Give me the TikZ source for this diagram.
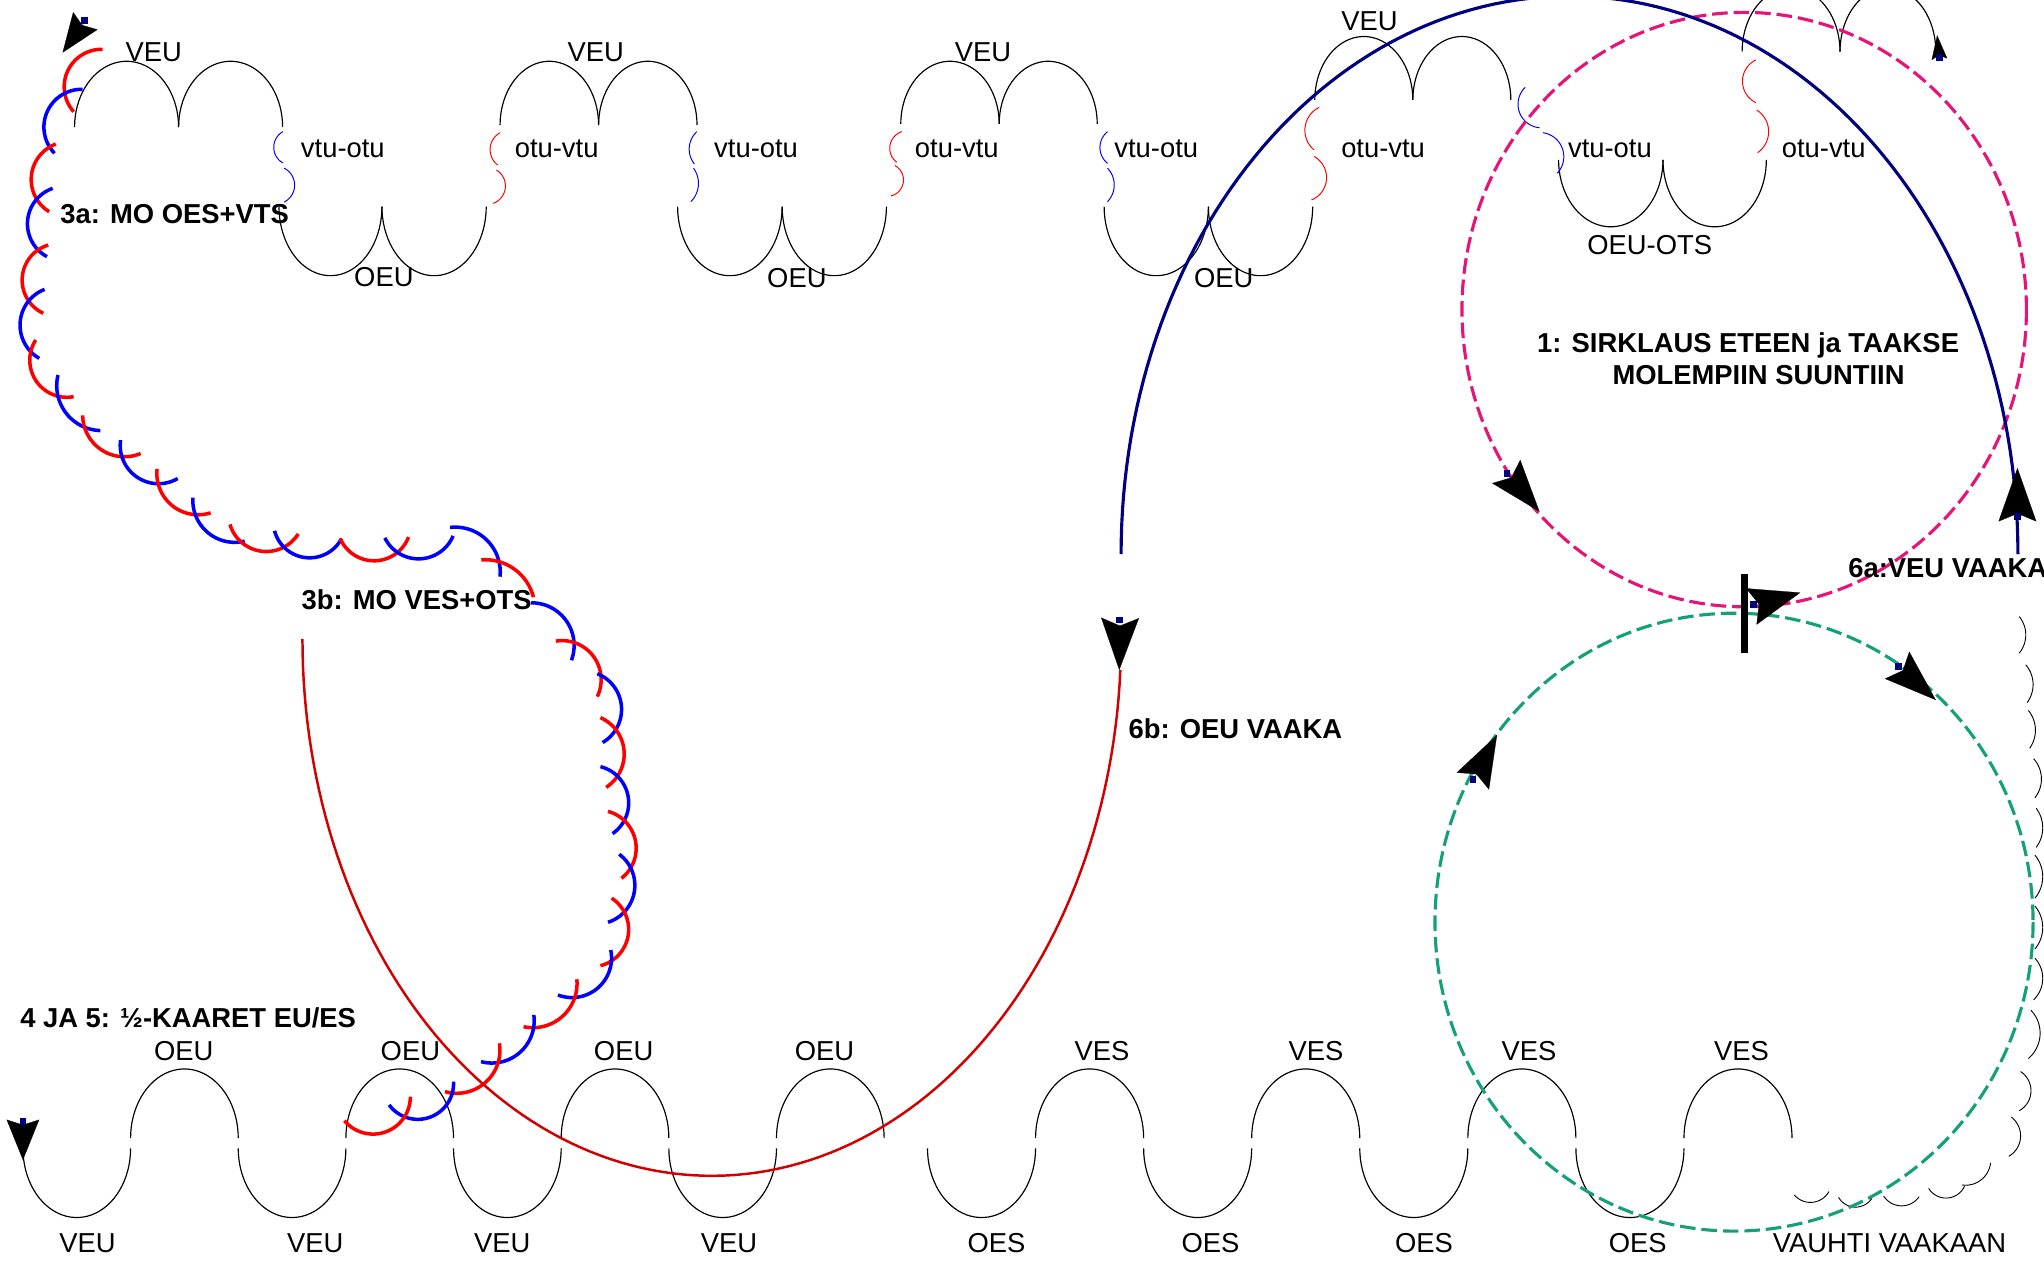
\documentclass[tikz,border=0pt]{standalone}
\usepackage{fontspec}
\setmainfont{Liberation Sans}
\usepackage{xfp}
\usetikzlibrary{arrows.meta}

\definecolor{navyline}{RGB}{0,0,128}
\definecolor{sweepred}{RGB}{210,0,0}
\definecolor{circmag}{RGB}{230,20,120}
\definecolor{circgrn}{RGB}{20,160,120}
\definecolor{chainred}{RGB}{255,0,0}
\definecolor{chainblue}{RGB}{0,0,255}

% half-ellipse arches: #1 left x, #2 right x, #3 base y, #4 height
\newcommand\archup[4]{\draw[arch] plot[domain=180:360,samples=40,variable=\t]
  ({((#1)+(#2))/2+((#2)-(#1))/2*cos(\t)},{(#3)+(#4)*sin(\t)});}
\newcommand\archdn[4]{\draw[arch] plot[domain=0:180,samples=40,variable=\t]
  ({((#1)+(#2))/2+((#2)-(#1))/2*cos(\t)},{(#3)+(#4)*sin(\t)});}

% circular arc through three points: #1 style, start (#2,#3), middle (#4,#5), end (#6,#7)
\newcommand\tarc[7]{%
 \edef\qAx{\fpeval{(#4)-(#2)}}%
 \edef\qAy{\fpeval{(#5)-(#3)}}%
 \edef\qBx{\fpeval{(#6)-(#2)}}%
 \edef\qBy{\fpeval{(#7)-(#3)}}%
 \edef\qD{\fpeval{2*((\qAx)*(\qBy)-(\qAy)*(\qBx))}}%
 \edef\qUx{\fpeval{((\qBy)*((\qAx)^2+(\qAy)^2)-(\qAy)*((\qBx)^2+(\qBy)^2))/(\qD)}}%
 \edef\qUy{\fpeval{((\qAx)*((\qBx)^2+(\qBy)^2)-(\qBx)*((\qAx)^2+(\qAy)^2))/(\qD)}}%
 \edef\qCx{\fpeval{round((#2)+(\qUx),3)}}%
 \edef\qCy{\fpeval{round((#3)+(\qUy),3)}}%
 \edef\qR{\fpeval{round(sqrt((\qUx)^2+(\qUy)^2),3)}}%
 \edef\qSa{\fpeval{atand(-(\qUy),-(\qUx))}}%
 \edef\qSb{\fpeval{atand((\qAy)-(\qUy),(\qAx)-(\qUx))}}%
 \edef\qSc{\fpeval{atand((\qBy)-(\qUy),(\qBx)-(\qUx))}}%
 \edef\qDc{\fpeval{(\qSc)-(\qSa)-360*floor(((\qSc)-(\qSa))/360)}}%
 \edef\qDb{\fpeval{(\qSb)-(\qSa)-360*floor(((\qSb)-(\qSa))/360)}}%
 \edef\qEnd{\fpeval{round((\qDb)<(\qDc) ? (\qSa)+(\qDc) : (\qSa)+(\qDc)-360,3)}}%
 \edef\qSa{\fpeval{round(\qSa,3)}}%
 \draw[#1] plot[domain=\qSa:\qEnd,samples=30,variable=\t]
   ({\qCx+\qR*cos(\t)},{\qCy+\qR*sin(\t)});%
}

% arrowhead from back point #1 to tip #2, length #3, width #4, inset #5
\newcommand\ahead[5]{\draw[black,line width=0.2pt,-{Stealth[length=#3pt,width=#4pt,inset=#5pt]}] #1 -- #2;}
% small square left where a tip starts
\newcommand\tipsq[1]{\fill[navyline] #1 ++(-2.6,-2.6) rectangle ++(5.2,5.2);}

\tikzset{
  lab/.style={font=\fontsize{21}{25}\selectfont, inner sep=0pt, text height=15pt, text depth=0pt},
  blab/.style={font=\fontsize{21}{25}\selectfont\bfseries, inner sep=0pt, text height=15pt, text depth=0pt},
  arch/.style={black, line width=0.9pt},
  brkred/.style={chainred, line width=0.75pt},
  brkblue/.style={chainblue, line width=0.75pt},
  chr/.style={chainred, line width=2.7pt},
  chb/.style={chainblue, line width=2.7pt},
  edgearc/.style={black, line width=0.7pt},
  dashcirc/.style={line width=2.4pt, dash pattern=on 12pt off 4.5pt},
}

\begin{document}
\begin{tikzpicture}[x=1pt,y=-1pt]
\useasboundingbox (0,0) rectangle (1568,969);

% ---------- upper row of arches ----------
\archup{57.2}{137}{97.5}{50.5}  \archup{137}{216.8}{97.5}{50.5}
\archup{383.6}{459.2}{96}{49}   \archup{459.2}{534.7}{96}{49}
\archup{691}{766.5}{95}{48}     \archup{766.5}{841.7}{95}{48}
\archup{1008.6}{1083.8}{76.7}{48.7} \archup{1083.8}{1159}{76.7}{48.7}
\archup{1336.4}{1411.5}{39.6}{49}   \archup{1411.5}{1485}{39.6}{49}

\archdn{214}{293}{158.5}{53}    \archdn{293}{373}{158.5}{53}
\archdn{519.8}{600}{158.5}{53}  \archdn{600}{680}{158.5}{53}
\archdn{847}{927}{158.5}{53}    \archdn{927}{1007}{158.5}{53}
\archdn{1195.6}{1275.7}{122.7}{51.3} \archdn{1275.7}{1355}{122.7}{51.3}

% ---------- brackets between the arches ----------
\tarc{brkblue}{217}{101}{210}{113}{217}{125}
\tarc{brkblue}{218}{129}{226}{142}{218}{155}
\tarc{brkred}{383.6}{101.8}{376}{114}{381.8}{126.6}
\tarc{brkred}{380.8}{130.4}{387.7}{143}{378.4}{156}
\tarc{brkblue}{534.6}{101}{528.8}{112.5}{532.7}{125.8}
\tarc{brkblue}{532}{129}{535.8}{140.6}{530}{154.7}
\tarc{brkred}{691.9}{101}{682.6}{112.5}{688}{124.5}
\tarc{brkred}{686.5}{127}{693}{139.3}{683.4}{150.3}
\tarc{brkblue}{849.6}{101}{843.8}{112.5}{849.6}{125.3}
\tarc{brkblue}{849.6}{129}{854.7}{140.6}{849.6}{154.7}
\tarc{brkred}{1012}{82.3}{1001}{99.7}{1008}{115}
\tarc{brkred}{1008}{120}{1017.6}{135.5}{1006}{153.4}
\tarc{brkblue}{1170}{67}{1164.6}{82}{1181}{98}
\tarc{brkblue}{1183.6}{101.8}{1199.2}{116.3}{1194.5}{133}
\tarc{brkred}{1346.9}{46}{1336.7}{61.4}{1346.9}{78.7}
\tarc{brkred}{1347.6}{84.4}{1356.7}{99.7}{1348.3}{117.1}

% ---------- lower row of waves ----------
\foreach \k in {0,2,4,6} {\archdn{17.6+82.58*\k}{17.6+82.58*(\k+1)}{881}{53}}
\foreach \k in {1,3,5,7} {\archup{17.6+82.58*\k}{17.6+82.58*(\k+1)}{873}{53}}
\foreach \k in {0,2,4,6} {\archdn{711.5+82.9*\k}{711.5+82.9*(\k+1)}{881}{53}}
\foreach \k in {1,3,5,7} {\archup{711.5+82.9*\k}{711.5+82.9*(\k+1)}{873}{53}}

% ---------- small arcs along the right edge ----------
\tarc{edgearc}{1549}{473}{1554}{487}{1549}{501}
\tarc{edgearc}{1554}{510}{1559.6}{524.5}{1555}{539}
\tarc{edgearc}{1556}{545}{1561.4}{559.5}{1557}{574}
\tarc{edgearc}{1560}{582}{1566}{597}{1561}{612}
\tarc{edgearc}{1562}{620}{1567}{635}{1562}{650}
\tarc{edgearc}{1561}{656}{1567}{672}{1561}{689}
\tarc{edgearc}{1561}{695}{1567}{711}{1561}{728}
\tarc{edgearc}{1561}{735}{1567}{751}{1560}{767}
\tarc{edgearc}{1558}{775}{1565}{793}{1556}{812}
\tarc{edgearc}{1550}{822}{1558}{837}{1549}{852}
\tarc{edgearc}{1543}{857}{1550}{872}{1541}{887}
\tarc{edgearc}{1527}{892}{1521}{904}{1505}{909}
\tarc{edgearc}{1507}{910}{1494}{919}{1479.5}{911.6}
\tarc{edgearc}{1472.2}{918}{1459.5}{925}{1445}{917.5}
\tarc{edgearc}{1435.9}{919.3}{1423}{926}{1410.4}{918.5}
\tarc{edgearc}{1403}{914.1}{1390.4}{922.3}{1376.5}{916.7}

% ---------- red and blue chain (3a / 3b) ----------
\tarc{chr}{78.8}{37.8}{49.7}{61.4}{56.5}{85.7}
\tarc{chb}{63.4}{68.5}{34.2}{92}{41.8}{117.6}
\tarc{chr}{42.8}{110.5}{24}{135.5}{37.7}{162.4}
\tarc{chb}{40.4}{144.5}{21.2}{168.8}{36}{196.9}
\tarc{chr}{37}{188}{17.1}{212.2}{33.2}{240.3}
\tarc{chb}{34.2}{222}{15.4}{248}{30.1}{274.9}
\tarc{chr}{27.4}{260.8}{29}{294}{56.5}{304.3}
\tarc{chb}{44.5}{287.7}{50}{316}{77}{330.3}
\tarc{chr}{63.4}{318.6}{75}{343}{107.9}{347.9}
\tarc{chb}{92.5}{337.6}{102.7}{364.2}{136.3}{367.1}
\tarc{chr}{120.5}{359.7}{133.6}{389}{161.6}{393.4}
\tarc{chb}{148}{381.7}{161}{409.8}{187.7}{415.1}
\tarc{chr}{176.4}{402.3}{202}{423}{228.8}{409.6}
\tarc{chb}{210.6}{407.2}{236.3}{427.9}{262}{413.2}
\tarc{chr}{261}{413.2}{287}{430.2}{313.4}{412}
\tarc{chb}{295.2}{412.6}{322}{428.7}{347.6}{411.1}
\tarc{chb}{345.2}{404.6}{371.6}{412.6}{383.6}{442.4}
\tarc{chr}{369.2}{429.5}{400.7}{442.1}{409.2}{458.1}
\tarc{chb}{407.5}{462.4}{435}{477.1}{438.4}{506.5}
\tarc{chr}{426.4}{491.8}{457.2}{506.5}{458.2}{534.4}
\tarc{chb}{458.2}{516.8}{476.7}{541.7}{462.3}{569.6}
\tarc{chr}{460.6}{550.5}{478.8}{577}{465}{604}
\tarc{chb}{460.6}{588.1}{482.2}{618.1}{469.9}{639.5}
\tarc{chr}{466.4}{622.4}{488}{651.8}{476.7}{673.8}
\tarc{chb}{475}{655.3}{487}{678.2}{466.4}{707.5}
\tarc{chr}{469.2}{689}{482.2}{714.9}{460.6}{740.8}
\tarc{chb}{468.5}{728.7}{460.6}{756}{428}{763.3}
\tarc{chr}{442.5}{751.2}{435.9}{774.8}{401.6}{787.6}
\tarc{chb}{409.5}{778.6}{402.9}{803}{369}{814.4}
\tarc{chr}{383.1}{800.3}{376.5}{826}{341.3}{837.4}
\tarc{chb}{347.9}{829.8}{339}{851.5}{298.5}{847.6}
\tarc{chr}{314.8}{841.3}{306}{862}{264.2}{859.7}

% ---------- the two dashed circles ----------
\draw[dashcirc, circmag] (1338,237.5) ellipse [x radius=216.5, y radius=228];
\draw[dashcirc, circgrn] (1330.2,707.4) ellipse [x radius=229.4, y radius=237];

% ---------- 6a and 6b sweeps ----------
\draw[navyline, line width=2.4pt] plot[domain=180:360,samples=120,variable=\t]
  ({1204+344*cos(\t)},{425+428*sin(\t)});
\draw[sweepred, line width=1.9pt] plot[domain=3.34:180,samples=120,variable=\t]
  ({546+314*cos(\t)},{490+412*sin(\t)});

% crossing bar between the circles
\fill[black] (1335.5,440) rectangle (1341,501);

% ---------- arrowheads ----------
\ahead{(65.9,15.4)}{(48,40.4)}{30}{23}{4}
\ahead{(17.6,858.5)}{(17.6,889.9)}{31}{25}{4}
\ahead{(1487.8,45.5)}{(1486,27)}{18.5}{12}{3}
\ahead{(1547.6,400)}{(1547.6,359)}{41}{29}{6}
\ahead{(859.2,473.8)}{(858.6,514)}{40}{29}{6}
\ahead{(1155.5,361.8)}{(1181,392.5)}{40}{28}{6}
\ahead{(1343.8,465.2)}{(1381,454.6)}{39}{29}{6}
\ahead{(1129.6,599.6)}{(1148.4,563.8)}{40}{28}{6}
\ahead{(1455,510)}{(1485,537)}{40}{28}{6}

\tipsq{(65,16)}
\tipsq{(17.6,860.4)}
\tipsq{(1488,44)}
\tipsq{(1547.6,396)}
\tipsq{(859,475.6)}
\tipsq{(1156,363)}
\tipsq{(1345,464)}
\tipsq{(1130,598)}
\tipsq{(1456.6,511.4)}

% ---------- labels, upper row ----------
\node[lab] (tVEUa) at (118,40) {VEU};
\node[lab] (tVEUb) at (457,40) {VEU};
\node[lab] (tVEUc) at (754,40) {VEU};
\node[lab] (tVEUd) at (1050.6,15.6) {VEU};
\node[lab] (tvo1) at (263,113) {vtu-otu};
\node[lab] (tov1) at (427,113) {otu-vtu};
\node[lab] (tvo2) at (580,113) {vtu-otu};
\node[lab] (tov2) at (734,113) {otu-vtu};
\node[lab] (tvo3) at (887,113) {vtu-otu};
\node[lab] (tov3) at (1061,113) {otu-vtu};
\node[lab] (tvo4) at (1235,113) {vtu-otu};
\node[lab] (tov4) at (1399,113) {otu-vtu};
\node[lab] (tOEUa) at (294.5,212.6) {OEU};
\node[lab] (tOEUb) at (611.3,213) {OEU};
\node[lab] (tOEUc) at (938.7,213) {OEU};
\node[lab] (tOEUOTS) at (1265.5,188) {OEU-OTS};

% ---------- labels, lower row ----------
\node[lab] (bOEUa) at (141,806) {OEU};
\node[lab] (bOEUb) at (314.8,806) {OEU};
\node[lab] (bOEUc) at (478.4,806) {OEU};
\node[lab] (bOEUd) at (632.5,806) {OEU};
\node[lab] (bVEUa) at (67.2,953) {VEU};
\node[lab] (bVEUb) at (241.8,953) {VEU};
\node[lab] (bVEUc) at (385.3,953) {VEU};
\node[lab] (bVEUd) at (559.3,953) {VEU};
\node[lab] (bVESa) at (845.4,806) {VES};
\node[lab] (bVESb) at (1009.6,806) {VES};
\node[lab] (bVESc) at (1173,806) {VES};
\node[lab] (bVESd) at (1336,806) {VES};
\node[lab] (bOESa) at (764.4,953) {OES};
\node[lab] (bOESb) at (928.6,953) {OES};
\node[lab] (bOESc) at (1092.4,953) {OES};
\node[lab] (bOESd) at (1256.3,953) {OES};
\node[lab] (vauhti) at (1449.5,953.5) {VAUHTI VAAKAAN};

% ---------- bold titles ----------
\node[blab, anchor=west] (t3a) at (46.2,164) {3a: MO OES+VTS};
\node[blab, anchor=west] (t3b) at (231.2,459.8) {3b: MO VES+OTS};
\node[blab, anchor=west] (t6b) at (865.6,558.7) {6b: OEU VAAKA};
\node[blab, anchor=west] (t6a) at (1417.7,435.3) {6a:VEU VAAKA};
\node[blab, anchor=west] (t45) at (15.4,781) {4 JA 5: ½-KAARET EU/ES};
\node[blab] (t1a) at (1341,263) {1: SIRKLAUS ETEEN ja TAAKSE};
\node[blab] (t1b) at (1349,287.7) {MOLEMPIIN SUUNTIIN};
\end{tikzpicture}
\end{document}
